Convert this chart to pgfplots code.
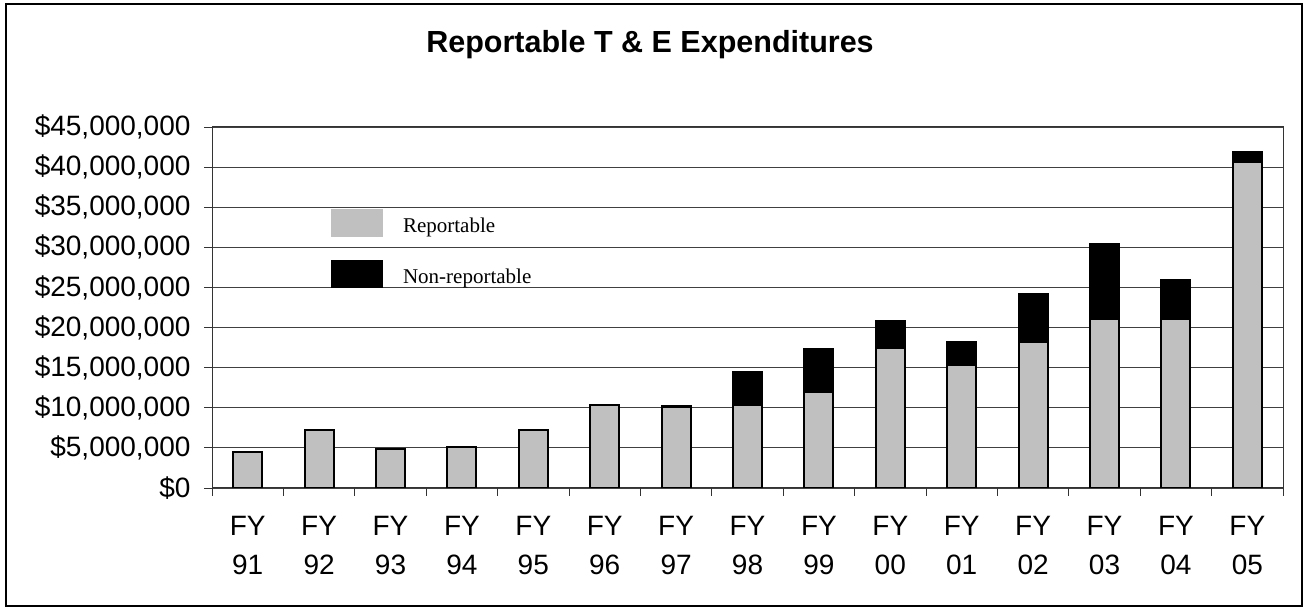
\documentclass[border=0pt]{standalone}
\usepackage{fontspec}
\setmainfont{Liberation Sans}
\newfontfamily\legfont{Liberation Serif}
\usepackage{pgfplots}
\pgfplotsset{compat=1.18}
\definecolor{repgray}{RGB}{192,192,192}
\begin{document}
\begin{tikzpicture}[x=1bp,y=1bp]
\useasboundingbox (0,0) rectangle (1307,607);
\draw[line width=1.6bp] (6,1) -- (6,603) -- (1302,603) -- (1302,1) -- cycle;
\node[font=\fontsize{30.5bp}{36bp}\selectfont\bfseries, anchor=base] at (650,554) {Reportable T \& E Expenditures};
\begin{axis}[
  at={(212bp,119bp)}, anchor=south west,
  scale only axis, width=1071bp, height=361bp,
  xmin=-0.5, xmax=14.5, ymin=0, ymax=45,
  ybar stacked, bar width=29bp,
  axis line style={line width=1bp, black!80},
  xtick={-0.5,0.5,...,14.5}, xticklabels={},
  extra x ticks={0,1,...,14},
  extra x tick labels={{FY\\91},{FY\\92},{FY\\93},{FY\\94},{FY\\95},{FY\\96},{FY\\97},{FY\\98},{FY\\99},{FY\\00},{FY\\01},{FY\\02},{FY\\03},{FY\\04},{FY\\05}},
  extra x tick style={major tick length=0pt, grid=none},
  ytick={0,5,...,45},
  yticklabels={{\$0},{\$5,000,000},{\$10,000,000},{\$15,000,000},{\$20,000,000},{\$25,000,000},{\$30,000,000},{\$35,000,000},{\$40,000,000},{\$45,000,000}},
  ymajorgrids, grid style={black!75, line width=0.9bp},
  tick pos=left, tick align=outside, major tick length=8bp,
  tick style={black!80, line width=0.9bp},
  yticklabel style={font=\fontsize{28bp}{34bp}\selectfont, xshift=-10bp},
  xticklabel style={font=\fontsize{28bp}{39bp}\selectfont, align=center, yshift=-25bp},
  legend style={at={(0.111,0.773)}, anchor=north west, draw=none, fill=none,
    font=\legfont\fontsize{21bp}{25bp}\selectfont, row sep=23bp, column sep=18bp, inner sep=0pt},
  legend cell align=left,
]
\addplot[fill=repgray, draw=black, line width=2bp,
  legend image code/.code={\fill[repgray] (0bp,-10bp) rectangle (50bp,16bp);}]
  coordinates {(0,4.54) (1,7.17) (2,4.92) (3,5.08) (4,7.17) (5,10.37) (6,10.12) (7,10.29) (8,11.92) (9,17.42) (10,15.29) (11,18.25) (12,21.12) (13,21.12) (14,40.6)};
\addplot[fill=black, draw=black, line width=2bp,
  legend image code/.code={\fill[black] (0bp,-10bp) rectangle (50bp,16bp);}]
  coordinates {(0,0) (1,0) (2,0) (3,0) (4,0) (5,0) (6,0.15) (7,4.17) (8,5.45) (9,3.41) (10,2.96) (11,5.92) (12,9.25) (13,4.75) (14,1.25)};
\legend{Reportable, Non-reportable}
\end{axis}
\end{tikzpicture}
\end{document}
